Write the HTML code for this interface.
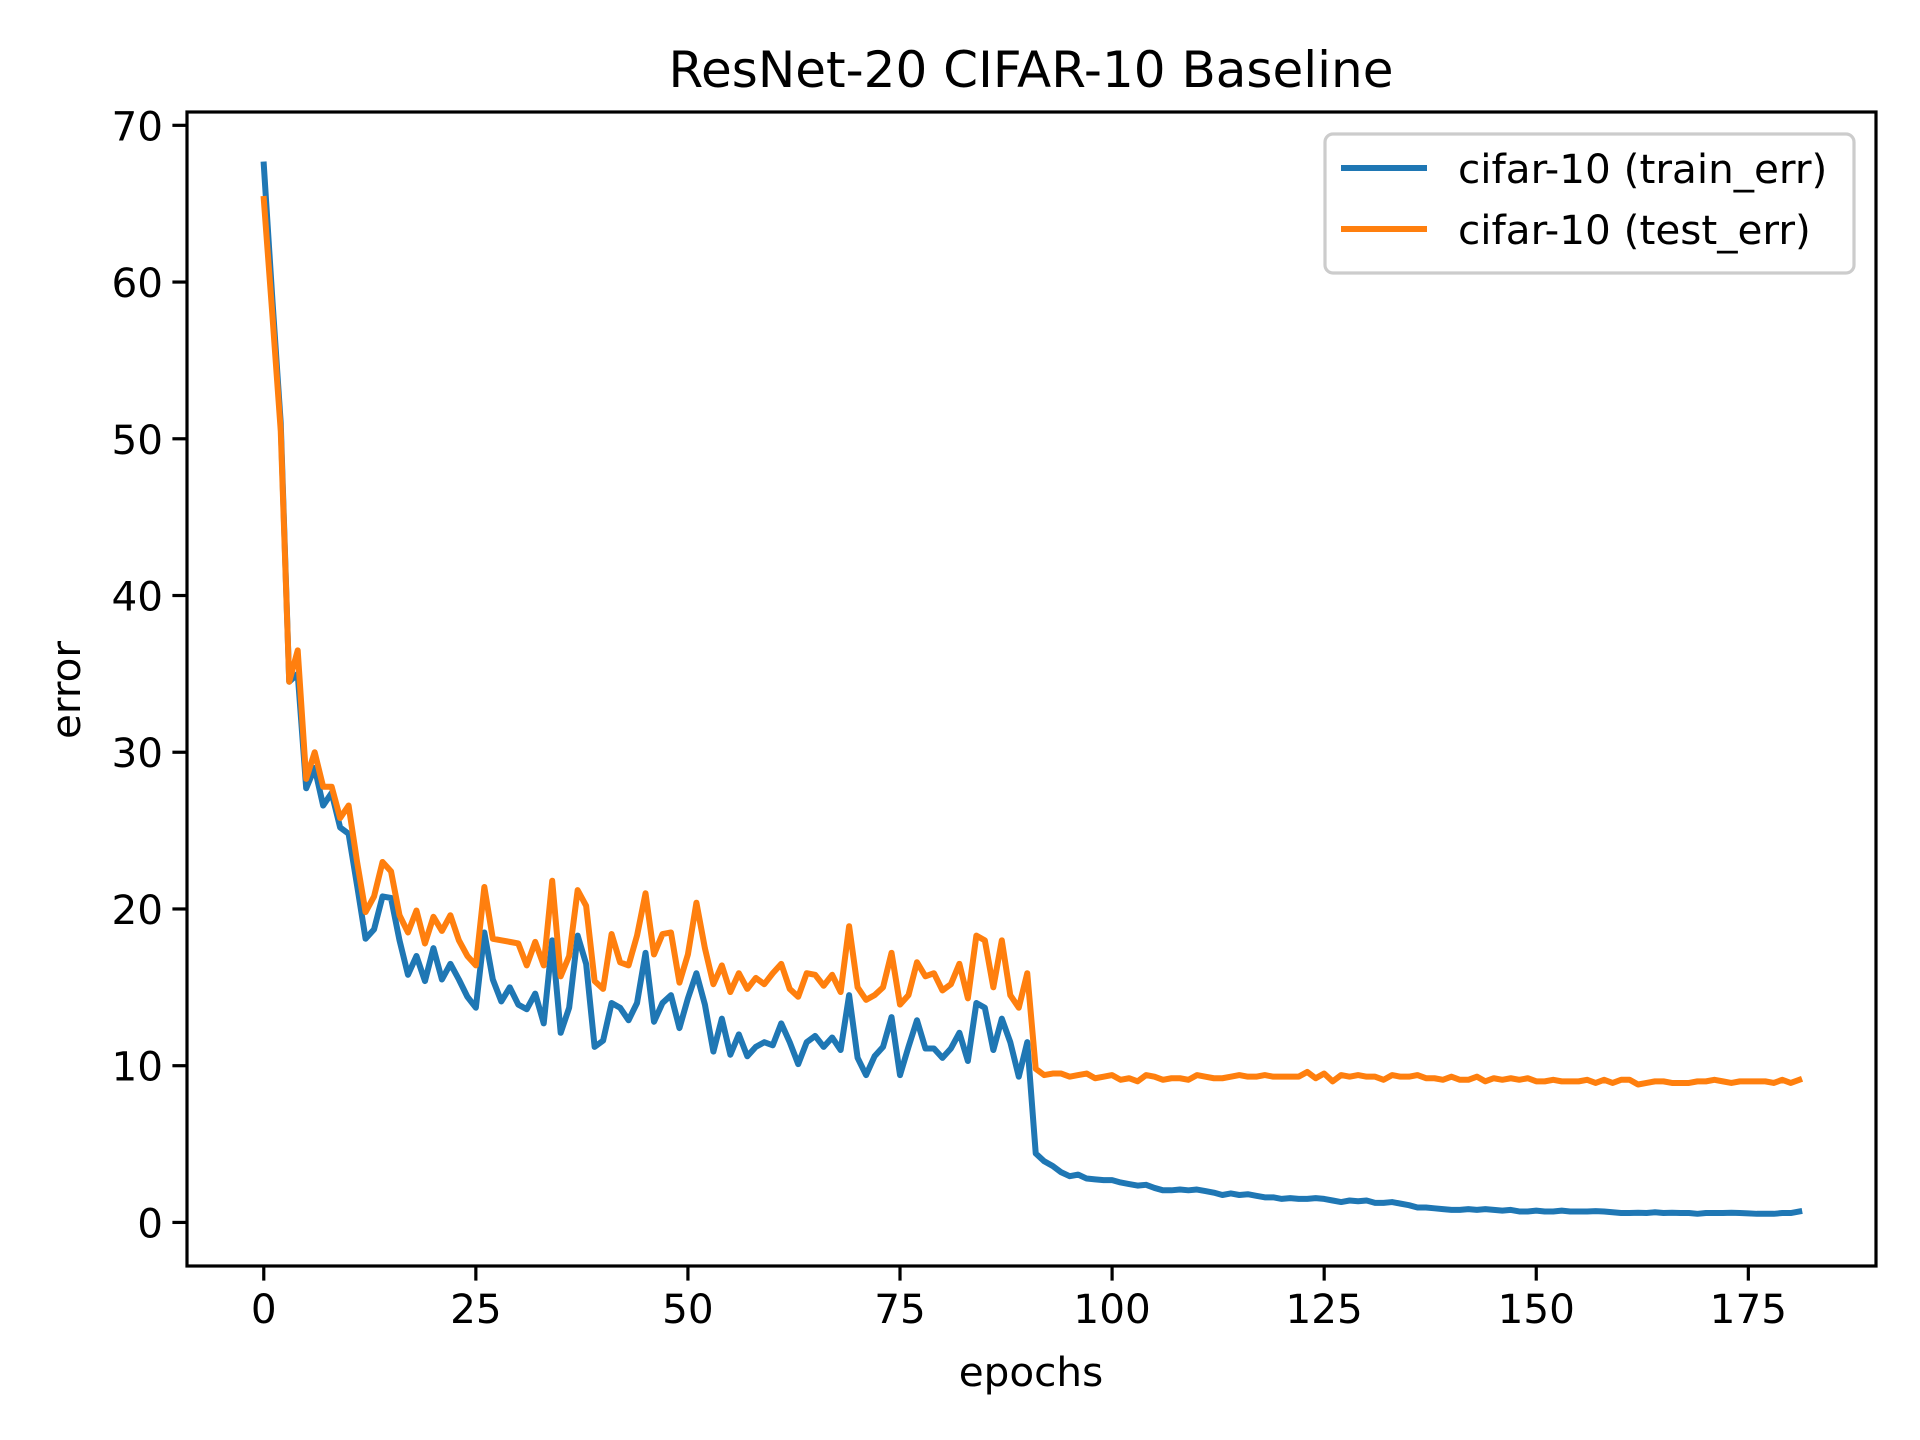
<!DOCTYPE html>
<html><head><meta charset="utf-8"><style>
html,body{margin:0;padding:0;background:#fff;}
svg{display:block;font-family:"DejaVu Sans","Liberation Sans",sans-serif;}
</style></head><body>
<svg id="chart" width="1920" height="1440" viewBox="0 0 1920 1440">
<rect width="1920" height="1440" fill="#fff"/>
<text x="1031" y="87" font-size="50" text-anchor="middle">ResNet-20 CIFAR-10 Baseline</text>
<g id="plot"></g>
<text x="1031" y="1386" font-size="40.5" text-anchor="middle">epochs</text>
<text x="0" y="0" font-size="40.5" text-anchor="middle" transform="translate(80,690) rotate(-90)">error</text>
</svg>
<script>
const trainErr=[67.5,59,51,34.5,35,27.7,29,26.6,27.4,25.2,24.8,21.5,18.1,18.7,20.8,20.7,18,15.8,17,15.4,17.5,15.5,16.5,15.5,14.4,13.7,18.5,15.5,14.1,15,13.9,13.6,14.6,12.7,18,12.1,13.7,18.3,16.5,11.2,11.6,14,13.7,12.9,14,17.2,12.8,14,14.5,12.4,14.3,15.9,13.9,10.9,13,10.7,12,10.6,11.2,11.5,11.3,12.7,11.5,10.1,11.5,11.9,11.2,11.8,11,14.5,10.5,9.4,10.6,11.2,13.1,9.4,11.2,12.9,11.1,11.1,10.5,11.1,12.1,10.3,14,13.7,11,13,11.5,9.3,11.5,
4.4,3.9,3.6,3.2,2.95,3.05,2.8,2.75,2.7,2.7,2.55,2.45,2.35,2.4,2.2,2.05,2.05,2.1,2.05,2.1,2.0,1.9,1.75,1.85,1.75,1.8,1.7,1.6,1.6,1.5,1.55,1.5,1.5,1.55,1.5,1.4,1.3,1.4,1.35,1.4,1.25,1.25,1.3,1.2,1.1,0.95,0.95,0.9,0.85,0.8,0.8,0.85,0.8,0.85,0.8,0.75,0.8,0.7,0.7,0.75,0.7,0.7,0.75,0.7,0.7,0.7,0.72,0.7,0.65,0.6,0.6,0.62,0.6,0.65,0.6,0.62,0.6,0.6,0.55,0.6,0.6,0.6,0.62,0.6,0.58,0.55,0.55,0.55,0.6,0.6,0.7];
const testErr=[65.3,58,50.5,34.5,36.5,28.3,30,27.8,27.8,25.8,26.6,23,19.8,20.8,23,22.4,19.6,18.5,19.9,17.8,19.5,18.6,19.6,18,17,16.4,21.4,18.1,18,17.9,17.8,16.4,17.9,16.4,21.8,15.7,17,21.2,20.2,15.4,14.9,18.4,16.6,16.4,18.3,21,17.1,18.4,18.5,15.3,17.1,20.4,17.5,15.2,16.4,14.7,15.9,14.9,15.6,15.2,15.9,16.5,14.9,14.4,15.9,15.8,15.1,15.8,14.7,18.9,15,14.2,14.5,15,17.2,13.9,14.5,16.6,15.7,15.9,14.8,15.2,16.5,14.3,18.3,18,15,18,14.5,13.7,15.9,
9.8,9.4,9.5,9.5,9.3,9.4,9.5,9.2,9.3,9.4,9.1,9.2,9.0,9.4,9.3,9.1,9.2,9.2,9.1,9.4,9.3,9.2,9.2,9.3,9.4,9.3,9.3,9.4,9.3,9.3,9.3,9.3,9.6,9.2,9.5,9.0,9.4,9.3,9.4,9.3,9.3,9.1,9.4,9.3,9.3,9.4,9.2,9.2,9.1,9.3,9.1,9.1,9.3,9.0,9.2,9.1,9.2,9.1,9.2,9.0,9.0,9.1,9.0,9.0,9.0,9.1,8.9,9.1,8.9,9.1,9.1,8.8,8.9,9.0,9.0,8.9,8.9,8.9,9.0,9.0,9.1,9.0,8.9,9.0,9.0,9.0,9.0,8.9,9.1,8.9,9.1];
const xTicks=[0,25,50,75,100,125,150,175];
const yTicks=[0,10,20,30,40,50,60,70];
const seriesNames=["cifar-10 (train_err)","cifar-10 (test_err)"];

const L=187,R=1876,T=112,B=1266;
const xMin=-9.05,xMax=190.05,yMin=-2.78,yMax=70.85;
function sx(v){return L+(v-xMin)/(xMax-xMin)*(R-L);}
function sy(v){return B-(v-yMin)/(yMax-yMin)*(B-T);}
const NS="http://www.w3.org/2000/svg";
const g=document.getElementById('plot');
function mk(tag,attrs,parent){const e=document.createElementNS(NS,tag);for(const k in attrs)e.setAttribute(k,attrs[k]);(parent||g).appendChild(e);return e;}

function drawSeries(arr,color,name){
  let d='';arr.forEach((v,i)=>{d+=(i?'L':'M')+sx(i).toFixed(2)+','+sy(v).toFixed(2);});
  const p=mk('path',{d:d,fill:'none',stroke:color,'stroke-width':6,'stroke-linejoin':'round','stroke-linecap':'square'});
  
  
}
drawSeries(trainErr,'#1f77b4','train-err-line');
drawSeries(testErr,'#ff7f0e','test-err-line');

const frame=mk('rect',{x:L,y:T,width:R-L,height:B-T,fill:'none',stroke:'#000','stroke-width':3.2});



xTicks.forEach(v=>{
  const x=sx(v);
  const t=mk('line',{x1:x,x2:x,y1:B,y2:B+14.6,stroke:'#000','stroke-width':3.2});
  
  
  const lb=mk('text',{x:x,y:B+57,'font-size':40.5,'text-anchor':'middle'});
  lb.textContent=v;
  
  
});
yTicks.forEach(v=>{
  const y=sy(v);
  const t=mk('line',{x1:L-14.6,x2:L,y1:y,y2:y,stroke:'#000','stroke-width':3.2});
  
  
  const lb=mk('text',{x:L-24,y:y+15,'font-size':40.5,'text-anchor':'end'});
  lb.textContent=v;
  
  
});

const lg=mk('g',{});


mk('rect',{x:1325,y:134,width:529,height:139,rx:8,fill:'#fff','fill-opacity':0.8,stroke:'#ccc','stroke-width':3.2},lg);
const colors=['#1f77b4','#ff7f0e'];
seriesNames.forEach((n,i)=>{
  const y=168+i*61;
  const ln=mk('line',{x1:1341,x2:1427,y1:y,y2:y,stroke:colors[i],'stroke-width':6},lg);
  
  
  const tx=mk('text',{x:1458,y:y+15,'font-size':40.5},lg);
  tx.textContent=n;
  
  
});
</script>
</body></html>
